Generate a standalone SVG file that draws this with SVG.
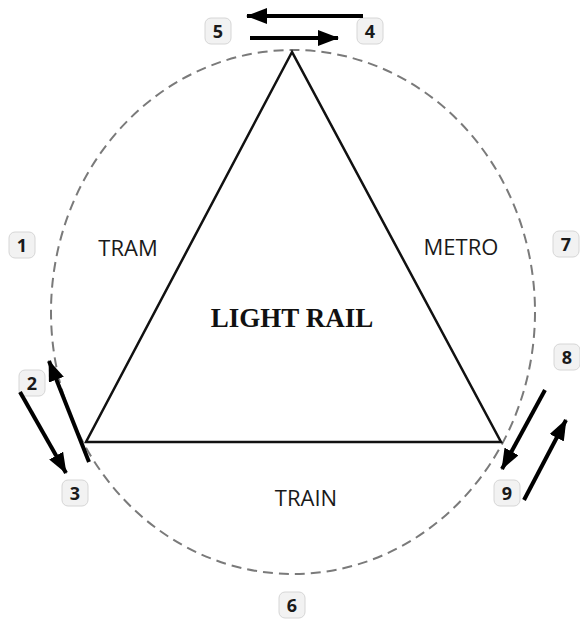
<svg xmlns="http://www.w3.org/2000/svg" width="580" height="621" viewBox="0 0 580 621">
<defs>
<marker id="ah" markerUnits="userSpaceOnUse" markerWidth="22" markerHeight="16" refX="20" refY="8" orient="auto">
<path d="M0,0 L21,8 L0,16 Z" fill="#000"/>
</marker>
<style>
.lbl{font-family:"Open Sans","Liberation Sans",sans-serif;font-size:22px;fill:#1a1a1a;text-anchor:middle}
.nb rect{fill:#f2f2f2;stroke:#d6d6d6;stroke-width:1}
.nb text{font-family:"Open Sans","Liberation Sans",sans-serif;font-size:18px;font-weight:bold;fill:#1a1a1a;text-anchor:middle}
.arr{stroke:#000;stroke-width:4;fill:none;marker-end:url(#ah)}
</style>
</defs>
<rect width="580" height="621" fill="#fff"/>
<g id="circle"><ellipse cx="293" cy="312" rx="242" ry="262" fill="none" stroke="#7a7a7a" stroke-width="2" stroke-dasharray="10 6"/></g>
<g id="triangle"><polygon points="292,52 86,442 501,442" fill="none" stroke="#111" stroke-width="2.5"/></g>
<g id="labels">
<text class="lbl" x="128" y="256">TRAM</text>
<text class="lbl" x="461" y="255">METRO</text>
<text class="lbl" x="306" y="506">TRAIN</text>
<text x="292" y="327" font-family="Liberation Serif,serif" font-size="27" font-weight="bold" fill="#111" text-anchor="middle">LIGHT RAIL</text>
</g>
<g id="n1" class="nb"><rect x="9" y="232" width="26" height="26" rx="6"/><text x="22" y="251.5">1</text></g>
<g id="n2" class="nb"><rect x="19" y="370" width="26" height="26" rx="6"/><text x="32" y="389.5">2</text></g>
<g id="n3" class="nb"><rect x="62" y="480" width="26" height="26" rx="6"/><text x="75" y="499.5">3</text></g>
<g id="n4" class="nb"><rect x="357" y="18" width="26" height="26" rx="6"/><text x="370" y="37.5">4</text></g>
<g id="n5" class="nb"><rect x="205" y="18" width="26" height="26" rx="6"/><text x="218" y="37.5">5</text></g>
<g id="n6" class="nb"><rect x="279" y="592" width="26" height="26" rx="6"/><text x="292" y="611.5">6</text></g>
<g id="n7" class="nb"><rect x="553" y="231" width="26" height="26" rx="6"/><text x="566" y="250.5">7</text></g>
<g id="n8" class="nb"><rect x="554" y="344" width="26" height="26" rx="6"/><text x="567" y="363.5">8</text></g>
<g id="n9" class="nb"><rect x="494" y="480" width="26" height="26" rx="6"/><text x="507" y="499.5">9</text></g>
<g id="connectors">
<line class="arr" x1="363" y1="16" x2="247" y2="16"/>
<line class="arr" x1="250" y1="38" x2="338" y2="38"/>
<line class="arr" x1="20" y1="392" x2="66" y2="473"/>
<line class="arr" x1="89" y1="462" x2="49" y2="361"/>
<line class="arr" x1="545" y1="390" x2="502" y2="469"/>
<line class="arr" x1="524" y1="500" x2="566" y2="420"/>
</g>
</svg>
